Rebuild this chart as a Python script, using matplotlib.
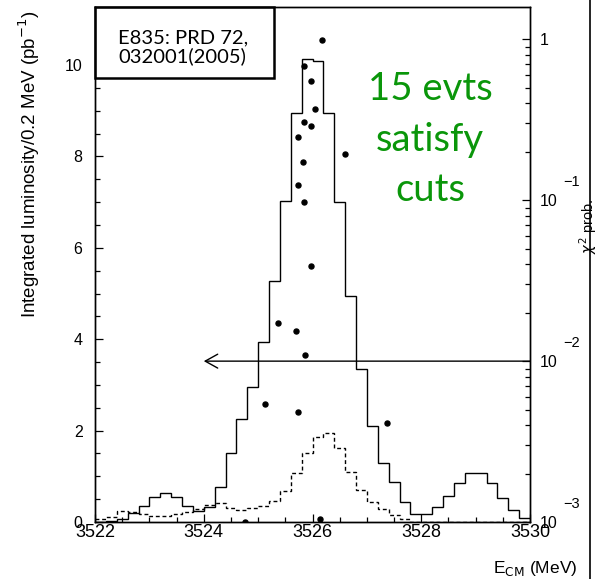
import numpy as np
import matplotlib
matplotlib.use("Agg")
import matplotlib.pyplot as plt
from matplotlib.patches import Rectangle
from matplotlib.lines import Line2D
from matplotlib.ticker import MultipleLocator, FixedLocator, FixedFormatter, LogLocator, NullFormatter

plt.rcParams['font.family'] = ['Liberation Sans', 'DejaVu Sans']

# ---------------- data ----------------
e_min, e_max, n_bins = 3522.0, 3530.0, 40
lumi_total = [0.01, 0.03, 0.07, 0.19, 0.36, 0.54, 0.63, 0.54, 0.36, 0.25,
              0.33, 0.76, 1.50, 2.25, 2.95, 3.93, 5.27, 7.02, 8.95, 10.14,
              10.08, 8.96, 7.01, 4.94, 3.34, 2.11, 1.30, 0.87, 0.44, 0.17,
              0.17, 0.33, 0.58, 0.86, 1.07, 1.07, 0.86, 0.52, 0.26, 0.09]
lumi_events = [0.06, 0.12, 0.24, 0.22, 0.17, 0.13, 0.13, 0.17, 0.22, 0.28,
               0.37, 0.41, 0.30, 0.27, 0.30, 0.35, 0.46, 0.68, 1.07, 1.50,
               1.87, 1.94, 1.61, 1.09, 0.69, 0.44, 0.28, 0.15, 0.06, 0.0,
               0.0, 0.0, 0.0, 0.0, 0.0, 0.0, 0.0, 0.0, 0.0, 0.0]
evt_energy = [3526.17, 3525.85, 3525.97, 3526.05, 3525.85, 3525.98, 3525.74,
              3526.59, 3525.83, 3525.73, 3525.84, 3525.98, 3525.36, 3525.70,
              3525.87, 3525.13, 3525.74, 3527.37, 3526.14, 3524.76]
evt_prob = [0.99, 0.68, 0.55, 0.37, 0.305, 0.29, 0.247, 0.194, 0.172, 0.124,
            0.098, 0.039, 0.0172, 0.0153, 0.0109, 0.0054, 0.0048, 0.0041,
            0.00105, 0.001]
prob_cut = 0.01
cut_arrow_x = (3530.0, 3524.0)
x_ticks = [3522, 3524, 3526, 3528, 3530]
y_ticks = [0, 2, 4, 6, 8, 10]
prob_ticks = [1e-3, 1e-2, 1e-1, 1.0]
prob_base_labels = ['10', '10', '10', '1']
prob_exp_labels = ['\u22123', '\u22122', '\u22121', '']

# ---------------- figure ----------------
fig = plt.figure(figsize=(6.01, 5.79), dpi=100)
ax = fig.add_axes([0.1581, 0.0984, 0.7238, 0.8895])
edges = np.linspace(e_min, e_max, n_bins + 1)

ax.stairs(lumi_total, edges, baseline=None, color='black', lw=1.0)
ax.stairs(lumi_events, edges, baseline=None, color='black', lw=1.0,
          linestyle=(0, (2.8, 2.0)))

ax.set_xlim(e_min, e_max)
ax.set_ylim(0, 11.27)
for s in ax.spines.values():
    s.set_linewidth(1.0)

ax.xaxis.set_major_locator(FixedLocator(x_ticks))
ax.xaxis.set_minor_locator(MultipleLocator(0.5))
ax.yaxis.set_major_locator(FixedLocator(y_ticks))
ax.yaxis.set_minor_locator(MultipleLocator(0.5))
ax.tick_params(axis='both', which='both', direction='in', top=False, right=False)
ax.tick_params(axis='x', which='major', length=6, width=0.9, labelsize=13, pad=1.5)
ax.tick_params(axis='x', which='minor', length=3.5, width=0.9)
ax.tick_params(axis='y', which='major', length=6, width=0.9, labelsize=11.5, pad=9)
ax.tick_params(axis='y', which='minor', length=3.5, width=0.9)

ax.set_ylabel('Integrated luminosity/0.2 MeV (pb$^{-1}$)', fontsize=13.5, loc='top')
ax.yaxis.set_label_coords(-0.1225, 0.994)
ax.set_xlabel(r'E$_{\mathsf{CM}}$ (MeV)', fontsize=12.5, loc='right')
ax.xaxis.set_label_coords(1.108, -0.072)

# right log axis
ax2 = ax.twinx()
ax2.set_yscale('log')
ax2.set_ylim(1e-3, 1.589)
ax2.plot(evt_energy, evt_prob, 'o', color='black', ms=3.6, clip_on=True)
ax2.yaxis.set_major_locator(FixedLocator(prob_ticks))
ax2.yaxis.set_major_formatter(FixedFormatter(prob_base_labels))
ax2.yaxis.set_minor_locator(LogLocator(base=10, subs=np.arange(2, 10)))
ax2.yaxis.set_minor_formatter(NullFormatter())
ax2.tick_params(axis='y', which='both', direction='in')
ax2.tick_params(axis='y', which='major', length=6, width=0.9, labelsize=11.5, pad=7)
ax2.tick_params(axis='y', which='minor', length=3.5, width=0.9)
for s in ax2.spines.values():
    s.set_linewidth(1.0)
for val, lab in zip(prob_ticks, prob_exp_labels):
    if lab:
        ax2.annotate(lab, xy=(1, val), xycoords=('axes fraction', 'data'),
                     xytext=(24, 8), textcoords='offset points',
                     fontsize=10.5, ha='left', va='bottom', annotation_clip=False)
ax2.set_ylabel(r'$\chi^2$ prob.', fontsize=10.5)
ax2.yaxis.set_label_coords(1.109, 0.573)

# cut arrow
ax2.annotate('', xy=(cut_arrow_x[1], prob_cut), xytext=(cut_arrow_x[0], prob_cut),
             arrowprops=dict(arrowstyle='->,head_length=0.45,head_width=0.25',
                             mutation_scale=20, lw=1.0, color='black',
                             shrinkA=0, shrinkB=0))

# reference box
ax.add_patch(Rectangle((0, 0.862), 0.411, 0.138, transform=ax.transAxes,
                       facecolor='white', edgecolor='black', lw=1.8, zorder=5,
                       clip_on=False))
ax.text(0.053, 0.922, 'E835: PRD 72,\n032001(2005)', transform=ax.transAxes,
        fontsize=14.5, family=['Lato', 'DejaVu Sans'], ha='left', va='center',
        linespacing=1.1, zorder=6)

# green annotation
ax.text(0.770, 0.742, '15 evts\nsatisfy\ncuts', transform=ax.transAxes,
        fontsize=27.5, family=['Lato', 'DejaVu Sans'], color='#0a960a',
        ha='center', va='center', linespacing=1.5)

# slide frame edge
fig.add_artist(Line2D([0.9817, 0.9817], [0, 1], transform=fig.transFigure,
                      color='black', lw=1.2))

fig.savefig('out.png', dpi=100)
